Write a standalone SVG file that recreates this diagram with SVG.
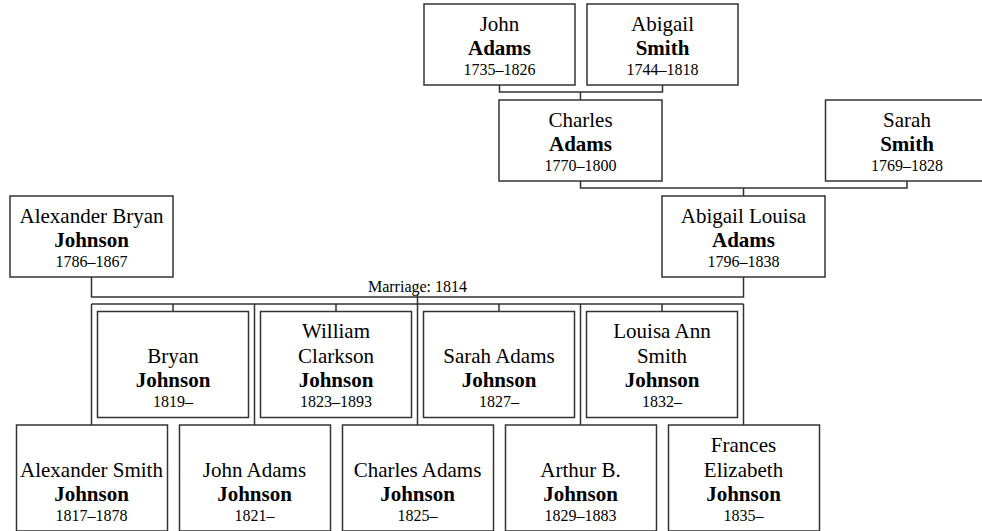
<svg xmlns="http://www.w3.org/2000/svg" width="982" height="531" viewBox="0 0 982 531">
<style>
.box{fill:#fff;stroke:#333;stroke-width:1.5}
.ln{fill:none;stroke:#333;stroke-width:1.5}
text{font-family:"Liberation Serif","Times New Roman",serif;fill:#000;text-anchor:middle}
.n{font-size:21px}
.s{font-size:21px;font-weight:bold}
.d{font-size:16px}
.m{font-size:16px}
</style>
<rect width="982" height="531" fill="#fff"/>
<g id="connectors" class="ln">
<path d="M499.5,85V92H662.5V85M580.5,92V100"/>
<path d="M580.5,181V188H907V181M743.5,188V196"/>
<path d="M91.5,277V297H743.5V277M417.5,294V304"/>
<path d="M91.5,304H743.5"/>
<path d="M91.5,304V425M254.5,304V425M417.5,304V425M580.5,304V425M743.5,304V425"/>
<path d="M173,304V311.5M336,304V311.5M499,304V311.5M662,304V311.5"/>
</g>
<text class="m" x="417.5" y="292">Marriage: 1814</text>
<g id="john-adams"><rect class="box" x="424" y="4" width="151" height="81"/><text class="n" x="499.5" y="30.5">John</text><text class="s" x="499.5" y="54.5">Adams</text><text class="d" x="499.5" y="75">1735–1826</text></g>
<g id="abigail-smith"><rect class="box" x="587" y="4" width="151" height="81"/><text class="n" x="662.5" y="30.5">Abigail</text><text class="s" x="662.5" y="54.5">Smith</text><text class="d" x="662.5" y="75">1744–1818</text></g>
<g id="charles-adams"><rect class="box" x="499" y="100" width="163" height="81"/><text class="n" x="580.5" y="126.5">Charles</text><text class="s" x="580.5" y="150.5">Adams</text><text class="d" x="580.5" y="171">1770–1800</text></g>
<g id="sarah-smith"><rect class="box" x="825.5" y="100" width="163" height="81"/><text class="n" x="907" y="126.5">Sarah</text><text class="s" x="907" y="150.5">Smith</text><text class="d" x="907" y="171">1769–1828</text></g>
<g id="alexander-bryan-johnson"><rect class="box" x="10" y="196" width="163" height="81"/><text class="n" x="91.5" y="222.5">Alexander Bryan</text><text class="s" x="91.5" y="246.5">Johnson</text><text class="d" x="91.5" y="267">1786–1867</text></g>
<g id="abigail-louisa-adams"><rect class="box" x="662" y="196" width="163" height="81"/><text class="n" x="743.5" y="222.5">Abigail Louisa</text><text class="s" x="743.5" y="246.5">Adams</text><text class="d" x="743.5" y="267">1796–1838</text></g>
<g id="bryan-johnson"><rect class="box" x="97.5" y="311.5" width="151" height="106"/><text class="n" x="173" y="363">Bryan</text><text class="s" x="173" y="387">Johnson</text><text class="d" x="173" y="407">1819–</text></g>
<g id="william-clarkson-johnson"><rect class="box" x="260.5" y="311.5" width="151" height="106"/><text class="n" x="336" y="338">William</text><text class="n" x="336" y="363">Clarkson</text><text class="s" x="336" y="387">Johnson</text><text class="d" x="336" y="407">1823–1893</text></g>
<g id="sarah-adams-johnson"><rect class="box" x="423.5" y="311.5" width="151" height="106"/><text class="n" x="499" y="363">Sarah Adams</text><text class="s" x="499" y="387">Johnson</text><text class="d" x="499" y="407">1827–</text></g>
<g id="louisa-ann-smith-johnson"><rect class="box" x="586.5" y="311.5" width="151" height="106"/><text class="n" x="662" y="338">Louisa Ann</text><text class="n" x="662" y="363">Smith</text><text class="s" x="662" y="387">Johnson</text><text class="d" x="662" y="407">1832–</text></g>
<g id="alexander-smith-johnson"><rect class="box" x="16.5" y="425" width="151" height="106"/><text class="n" x="91.5" y="476.5">Alexander Smith</text><text class="s" x="91.5" y="500.5">Johnson</text><text class="d" x="91.5" y="520.5">1817–1878</text></g>
<g id="john-adams-johnson"><rect class="box" x="179.5" y="425" width="151" height="106"/><text class="n" x="254.5" y="476.5">John Adams</text><text class="s" x="254.5" y="500.5">Johnson</text><text class="d" x="254.5" y="520.5">1821–</text></g>
<g id="charles-adams-johnson"><rect class="box" x="342.5" y="425" width="151" height="106"/><text class="n" x="417.5" y="476.5">Charles Adams</text><text class="s" x="417.5" y="500.5">Johnson</text><text class="d" x="417.5" y="520.5">1825–</text></g>
<g id="arthur-b-johnson"><rect class="box" x="505.5" y="425" width="151" height="106"/><text class="n" x="580.5" y="476.5">Arthur B.</text><text class="s" x="580.5" y="500.5">Johnson</text><text class="d" x="580.5" y="520.5">1829–1883</text></g>
<g id="frances-elizabeth-johnson"><rect class="box" x="668.5" y="425" width="151" height="106"/><text class="n" x="743.5" y="451.5">Frances</text><text class="n" x="743.5" y="476.5">Elizabeth</text><text class="s" x="743.5" y="500.5">Johnson</text><text class="d" x="743.5" y="520.5">1835–</text></g>
</svg>
